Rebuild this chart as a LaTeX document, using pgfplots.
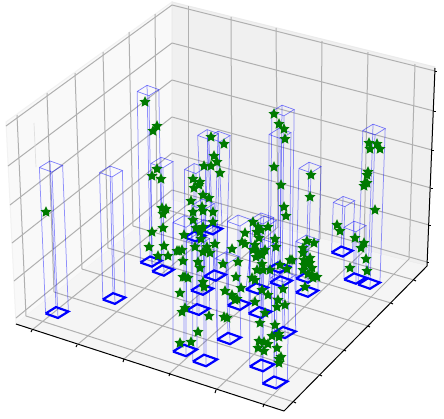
\documentclass[border=0pt]{standalone}
\usepackage{pgfplots}
\pgfplotsset{compat=1.18}
\definecolor{gridc}{HTML}{B0B0B0}
\definecolor{starc}{RGB}{0,122,0}

% filled five point star, as matplotlib's marker='*'
\pgfdeclareplotmark{fstar}{%
  \pgfpathmoveto{\pgfpointpolar{90}{\pgfplotmarksize}}
  \pgfpathlineto{\pgfpointpolar{126}{0.48\pgfplotmarksize}}
  \pgfpathlineto{\pgfpointpolar{162}{\pgfplotmarksize}}
  \pgfpathlineto{\pgfpointpolar{198}{0.48\pgfplotmarksize}}
  \pgfpathlineto{\pgfpointpolar{234}{\pgfplotmarksize}}
  \pgfpathlineto{\pgfpointpolar{270}{0.48\pgfplotmarksize}}
  \pgfpathlineto{\pgfpointpolar{306}{\pgfplotmarksize}}
  \pgfpathlineto{\pgfpointpolar{342}{0.48\pgfplotmarksize}}
  \pgfpathlineto{\pgfpointpolar{18}{\pgfplotmarksize}}
  \pgfpathlineto{\pgfpointpolar{54}{0.48\pgfplotmarksize}}
  \pgfpathclose
  \pgfusepathqfillstroke}

% the reference is a perspective 3D view; everything below is given in its
% projected position on the picture (x right, y down)
\newcommand\gline[4]{\addplot[gridc,line width=1pt] coordinates {(#1,#2) (#3,#4)};}
\newcommand\aline[4]{\addplot[black,line width=1pt] coordinates {(#1,#2) (#3,#4)};}
% column: base centre, top centre
\newcommand\post[4]{\addplot[blue,opacity=0.42,line width=0.75pt] coordinates {(#1,#2) (#3,#4)};}
\newcommand\col[4]{%
  \pgfmathsetmacro\s{0.88+(#2-230)*0.16/120}%
  \pgfmathsetmacro\u{\s+0.02}%
  \addplot[blue,line width=2.2pt] coordinates {({#1-11.5*\s},{#2+0.5*\s}) ({#1-1*\s},{#2-6*\s}) ({#1+11.5*\s},{#2-1.5*\s}) ({#1+1*\s},{#2+5*\s}) ({#1-11.5*\s},{#2+0.5*\s})};
  \addplot[blue,opacity=0.5,line width=0.7pt] coordinates {({#3-11.5*\u},{#4+0.5*\u}) ({#3-1*\u},{#4-6*\u}) ({#3+11.5*\u},{#4-1.5*\u}) ({#3+1*\u},{#4+5*\u}) ({#3-11.5*\u},{#4+0.5*\u})};
  \post{{#1-11.5*\s}}{{#2+0.5*\s}}{{#3-11.5*\u}}{{#4+0.5*\u}}
  \post{{#1-1*\s}}{{#2-6*\s}}{{#3-1*\u}}{{#4-6*\u}}
  \post{{#1+11.5*\s}}{{#2-1.5*\s}}{{#3+11.5*\u}}{{#4-1.5*\u}}
  \post{{#1+1*\s}}{{#2+5*\s}}{{#3+1*\u}}{{#4+5*\u}}
}

\begin{document}
\begin{tikzpicture}
\begin{axis}[
    scale only axis,
    width=444pt,
    height=418pt,
    xmin=0, xmax=444,
    ymin=0, ymax=418,
    y dir=reverse,
    axis lines=none,
]
% white sheet: keeps the whole frame in the picture's bounding box
\addplot[fill=white,draw=none] coordinates {(0,0) (444,0) (444,418) (0,418)} -- cycle;
% panes
\addplot[fill=black!2.5,draw=black!5,line width=1pt] coordinates {(16,324) (172,200) (172,2) (6,122)} -- cycle;
\addplot[fill=black!6,draw=black!8,line width=1pt] coordinates {(172,200) (172,2) (435,67) (427,266)} -- cycle;
\addplot[fill=black!4,draw=none] coordinates {(16,324) (284,411) (427,266) (172,200)} -- cycle;

% grid on the left wall, horizontal
\gline{6}{126}{172}{5}
\gline{8}{166}{172}{43}
\gline{10}{205}{172}{80}
\gline{12}{243}{172}{117}
\gline{14}{281}{172}{153}
\gline{16}{318}{172}{190}
% grid on the back wall, horizontal
\gline{172}{5}{435}{71}
\gline{172}{43}{434}{111}
\gline{172}{80}{432}{150}
\gline{172}{117}{431}{188}
\gline{172}{153}{429}{225}
\gline{172}{190}{427}{262}
% left wall, vertical, and on over the floor
\gline{17}{115}{26}{316}
\gline{47}{93}{54}{292}
\gline{75}{73}{82}{269}
\gline{103}{52}{108}{248}
\gline{129}{32}{133}{226}
\gline{155}{14}{157}{207}
\gline{26}{316}{294}{402}
\gline{54}{292}{320}{375}
\gline{82}{269}{344}{350}
\gline{108}{248}{368}{326}
\gline{133}{226}{391}{303}
\gline{157}{207}{414}{280}
% back wall, vertical, and on over the floor
\gline{188}{6}{188}{204}
\gline{231}{17}{232}{215}
\gline{276}{28}{278}{227}
\gline{322}{41}{320}{239}
\gline{368}{52}{364}{251}
\gline{415}{64}{409}{259}
\gline{188}{204}{32}{330}
\gline{232}{215}{77}{345}
\gline{278}{227}{124}{359}
\gline{320}{239}{170}{373}
\gline{364}{251}{216}{390}
\gline{409}{259}{264}{404}
% faint stroke on the left wall
\addplot[black!12,line width=0.7pt] coordinates {(34,123) (36,167)};

% axis lines and ticks
\aline{16}{324}{284}{411}
\aline{284}{411}{427}{266}
\aline{435}{68}{427}{266}
\aline{32}{330}{31}{332}
\aline{77}{345}{76}{347}
\aline{124}{359}{123}{362}
\aline{170}{373}{169}{376}
\aline{216}{390}{215}{393}
\aline{264}{404}{263}{407}
\aline{294}{402}{296}{403}
\aline{320}{375}{322}{376}
\aline{344}{350}{346}{351}
\aline{368}{326}{370}{327}
\aline{391}{303}{393}{304}
\aline{414}{280}{416}{281}
\aline{435}{71}{437}{71}
\aline{434}{111}{436}{111}
\aline{432}{150}{434}{150}
\aline{431}{188}{433}{188}
\aline{429}{225}{431}{225}
\aline{427}{262}{429}{262}

% columns
\col{57}{313}{51}{167}
\col{114}{299}{111}{172}
\col{151}{262}{148}{91}
\col{163}{271}{162}{163}
\col{195}{237}{195}{169}
\col{212}{230}{208}{135}
\col{215}{276}{219}{137}
\col{202}{290}{203}{205}
\col{198}{310}{198}{240}
\col{185}{351}{185}{222}
\col{205}{361}{205}{226}
\col{239}{305}{239}{221}
\col{260}{313}{262}{219}
\col{257}{289}{265}{222}
\col{229}{339}{227}{258}
\col{279}{268}{280}{134}
\col{281}{282}{283}{111}
\col{284}{333}{283}{277}
\col{275}{383}{276}{270}
\col{262}{366}{262}{245}
\col{307}{278}{310}{168}
\col{307}{292}{307}{241}
\col{342}{252}{344}{202}
\col{355}{279}{355}{227}
\col{369}{284}{374}{130}

% stars
\addplot[only marks,mark=fstar,mark size=4.6pt,
    mark options={fill=starc,draw=starc,line width=1pt}] coordinates {
(46,212) (145,102) (157,126) (153,131) (157,169) (152,176) (161,179)
(162,208) (166,209) (163,214) (152,232) (163,228) (149,247) (164,246)
(158,256) (168,256) (177,251) (182,250) (184,235) (183,261) (183,277)
(188,278) (180,293) (185,308) (182,312) (198,332) (180,343) (191,342)
(211,137) (224,144) (214,156) (217,162) (204,166) (211,166) (220,173)
(193,179) (200,182) (199,185) (194,188) (203,195) (209,198) (191,201)
(202,207) (193,212) (213,212) (203,211) (193,220) (213,222) (196,228)
(203,227) (200,232) (201,239) (195,247) (215,244) (207,247) (179,251)
(232,249) (210,253) (203,252) (198,262) (200,268) (223,264) (185,277)
(236,277) (203,282) (204,287) (225,291) (232,295) (235,300) (209,316)
(284,207) (286,216) (253,222) (268,227) (258,227) (257,232) (261,230)
(245,233) (259,238) (242,242) (245,244) (275,239) (276,247) (255,245)
(253,250) (265,250) (258,252) (256,257) (262,255) (290,260) (238,262)
(262,264) (280,265) (257,270) (263,270) (287,269) (270,270) (252,278)
(255,280) (241,288) (262,290) (268,295) (283,289) (237,299) (278,300)
(255,302) (277,307) (285,305) (265,313) (260,323) (275,325) (227,318)
(224,317) (272,336) (279,334) (279,337) (259,341) (264,342) (268,344)
(258,348) (264,351) (277,348) (281,357) (279,359) (279,363)
(274,114) (279,124) (284,129) (285,139) (274,167) (281,185) (310,197)
(311,175) (369,143) (377,144) (370,149) (380,149) (368,172) (367,175)
(365,183) (364,186) (367,183) (375,210)
(307,241) (314,243) (303,248) (303,253) (310,258) (304,260) (292,260)
(310,263) (304,265) (312,268) (303,270) (312,275) (317,277) (305,287)
(308,274) (313,278) (337,225) (340,231) (355,238) (364,243) (361,248)
(366,259) (350,268) (367,271)
};
\end{axis}
\end{tikzpicture}
\end{document}
